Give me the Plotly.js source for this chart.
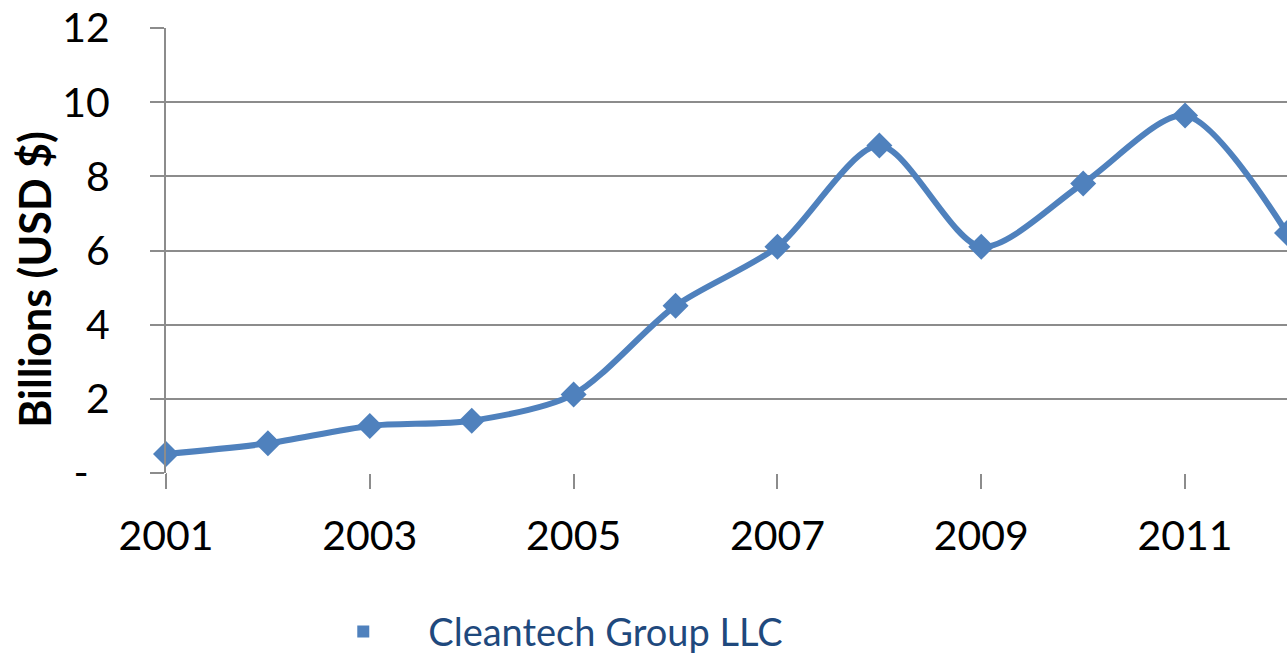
<!DOCTYPE html>
<html>
<head>
<meta charset="utf-8">
<script src="https://cdn.plot.ly/plotly-3.0.1.min.js"></script>
<style>
  html, body { margin: 0; padding: 0; background: #fff; }
  #chart { width: 1287px; height: 655px; }
</style>
</head>
<body>
<div id="chart"></div>
<script>
// Inversión anual (miles de millones USD)
const years = [2001, 2002, 2003, 2004, 2005, 2006, 2007, 2008, 2009, 2010, 2011, 2012];
const values = [0.51, 0.8, 1.27, 1.41, 2.12, 4.51, 6.1, 8.83, 6.1, 7.81, 9.64, 6.47];
const seriesName = 'Cleantech Group LLC';
const yTitle = 'Billions (USD $)';
const yTickVals = [0, 2, 4, 6, 8, 10, 12];
const yTickText = ['-\u00A0\u00A0', '2', '4', '6', '8', '10', '12'];
const xTickVals = [2001, 2003, 2005, 2007, 2009, 2011];

const azul = '#4F81BD';
const gris = '#8c8c8c';
const fuente = 'Lato, "Open Sans", sans-serif';

const linea = {
  x: years,
  y: values,
  type: 'scatter',
  mode: 'lines+markers',
  line: { color: azul, width: 6, shape: 'spline', smoothing: 0.8 },
  marker: { symbol: 'diamond', size: 20, color: azul },
  cliponaxis: false,
  showlegend: false,
  hoverinfo: 'x+y'
};

// entrada de leyenda (solo el cuadrado, como en Excel)
const leyenda = {
  x: [null],
  y: [null],
  type: 'scatter',
  mode: 'markers',
  name: seriesName,
  marker: { symbol: 'square', size: 12, color: azul },
  showlegend: true
};

const layout = {
  width: 1287,
  height: 655,
  margin: { l: 166, r: 0, t: 28, b: 182, autoexpand: false },
  paper_bgcolor: '#fff',
  plot_bgcolor: '#fff',
  font: { family: fuente, color: '#000' },
  xaxis: {
    range: [2001, 2012],
    tickvals: xTickVals,
    ticktext: xTickVals.map(String),
    ticks: 'outside',
    ticklen: 15,
    tickwidth: 2,
    tickcolor: gris,
    tickfont: { size: 41, family: fuente },
    ticklabelstandoff: 12,
    showgrid: false,
    zeroline: false,
    showline: false
  },
  yaxis: {
    range: [0, 12],
    tickvals: yTickVals,
    ticktext: yTickText,
    ticks: 'outside',
    ticklen: 14,
    tickwidth: 2,
    tickcolor: gris,
    tickfont: { size: 41, family: fuente },
    ticklabelstandoff: 32,
    showgrid: true,
    gridcolor: gris,
    gridwidth: 2,
    zeroline: false,
    showline: true,
    linecolor: gris,
    linewidth: 2
  },
  legend: {
    orientation: 'h',
    x: 0.118,
    xanchor: 'left',
    y: -0.357,
    yanchor: 'middle',
    font: { size: 38, family: fuente, color: '#1F497D' },
    itemwidth: 120
  },
  annotations: [
    {
      text: yTitle, textangle: -90, showarrow: false,
      xref: 'paper', yref: 'paper', x: -0.117, y: 0.436,
      xanchor: 'center', yanchor: 'middle',
      font: { size: 43, family: fuente, color: '#000', weight: 'bold' }
    }
  ],
  shapes: [
    // prolongación del eje vertical bajo el cero
    { type: 'line', xref: 'x', yref: 'paper', x0: 2001, x1: 2001, y0: 0, y1: -0.034, line: { color: gris, width: 2 } }
  ]
};

Plotly.newPlot('chart', [linea, leyenda], layout, { displayModeBar: false, staticPlot: true });
</script>
</body>
</html>
